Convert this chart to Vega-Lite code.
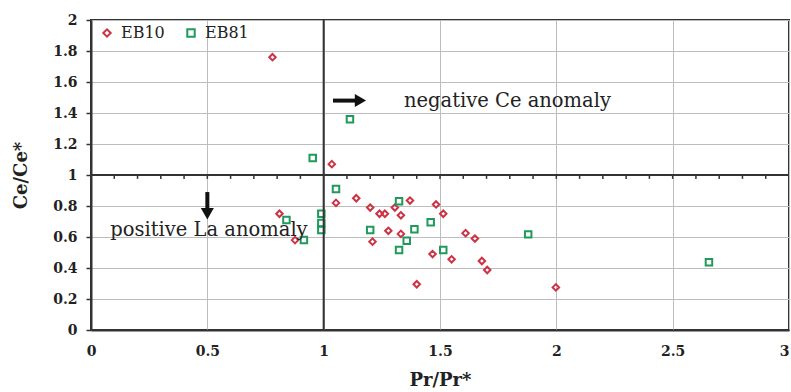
{
  "$schema": "https://vega.github.io/schema/vega-lite/v6.json",
  "width": 698,
  "height": 310,
  "autosize": {"type": "none"},
  "padding": {"left": 91, "top": 20, "right": 2, "bottom": 62},
  "background": "white",
  "config": {
    "font": "DejaVu Serif",
    "view": {"stroke": "#333333", "strokeWidth": 2},
    "axis": {"labelOverlap": false, "labelSeparation": 0, "labelBound": false}
  },
  "datasets": {
    "pts": [
      {"series": "EB10", "x": 0.78, "y": 1.76},
      {"series": "EB10", "x": 1.035, "y": 1.07},
      {"series": "EB10", "x": 0.81, "y": 0.75},
      {"series": "EB10", "x": 0.877, "y": 0.58},
      {"series": "EB10", "x": 1.053, "y": 0.82},
      {"series": "EB10", "x": 1.14, "y": 0.85},
      {"series": "EB10", "x": 1.2, "y": 0.79},
      {"series": "EB10", "x": 1.24, "y": 0.75},
      {"series": "EB10", "x": 1.263, "y": 0.75},
      {"series": "EB10", "x": 1.306, "y": 0.79},
      {"series": "EB10", "x": 1.332, "y": 0.74},
      {"series": "EB10", "x": 1.371, "y": 0.835},
      {"series": "EB10", "x": 1.483, "y": 0.81},
      {"series": "EB10", "x": 1.514, "y": 0.75},
      {"series": "EB10", "x": 1.278, "y": 0.64},
      {"series": "EB10", "x": 1.332, "y": 0.62},
      {"series": "EB10", "x": 1.21, "y": 0.57},
      {"series": "EB10", "x": 1.61, "y": 0.625},
      {"series": "EB10", "x": 1.65, "y": 0.59},
      {"series": "EB10", "x": 1.468, "y": 0.49},
      {"series": "EB10", "x": 1.55, "y": 0.456},
      {"series": "EB10", "x": 1.68, "y": 0.445},
      {"series": "EB10", "x": 1.703, "y": 0.387},
      {"series": "EB10", "x": 1.4, "y": 0.295},
      {"series": "EB10", "x": 1.998, "y": 0.275},
      {"series": "EB81", "x": 1.113, "y": 1.36},
      {"series": "EB81", "x": 0.953, "y": 1.11},
      {"series": "EB81", "x": 1.053, "y": 0.91},
      {"series": "EB81", "x": 0.99, "y": 0.75},
      {"series": "EB81", "x": 0.99, "y": 0.69},
      {"series": "EB81", "x": 0.99, "y": 0.645},
      {"series": "EB81", "x": 1.324, "y": 0.83},
      {"series": "EB81", "x": 1.2, "y": 0.645},
      {"series": "EB81", "x": 1.39, "y": 0.65},
      {"series": "EB81", "x": 1.46, "y": 0.695},
      {"series": "EB81", "x": 1.357, "y": 0.576},
      {"series": "EB81", "x": 1.324, "y": 0.516},
      {"series": "EB81", "x": 1.514, "y": 0.516},
      {"series": "EB81", "x": 1.879, "y": 0.617},
      {"series": "EB81", "x": 0.915, "y": 0.58},
      {"series": "EB81", "x": 0.84, "y": 0.71},
      {"series": "EB81", "x": 2.656, "y": 0.437}
    ],
    "labels": [
      {"x": 1.79, "y": 1.475, "label": "negative Ce anomaly"},
      {"x": 0.507, "y": 0.645, "label": "positive La anomaly"}
    ],
    "shafts": [
      {"x": 1.04, "x2": 1.15, "y": 1.48, "y2": 1.48},
      {"x": 0.5, "x2": 0.5, "y": 0.89, "y2": 0.76}
    ],
    "headRight": [{"x": 1.158, "y": 1.48}],
    "headDown": [{"x": 0.5, "y": 0.75}],
    "vline": [{"x": 1}],
    "hline": [{"y": 1}],
    "minor": [
      {"x": 0.1}, {"x": 0.2}, {"x": 0.3}, {"x": 0.4}, {"x": 0.5}, {"x": 0.6}, {"x": 0.7}, {"x": 0.8}, {"x": 0.9},
      {"x": 1.1}, {"x": 1.2}, {"x": 1.3}, {"x": 1.4}, {"x": 1.5}, {"x": 1.6}, {"x": 1.7}, {"x": 1.8}, {"x": 1.9},
      {"x": 2.0}, {"x": 2.1}, {"x": 2.2}, {"x": 2.3}, {"x": 2.4}, {"x": 2.5}, {"x": 2.6}, {"x": 2.7}, {"x": 2.8}, {"x": 2.9}
    ]
  },
  "layer": [
    {
      "data": {"name": "pts"},
      "mark": {"type": "point", "filled": false, "strokeWidth": 2, "opacity": 1, "size": 42},
      "encoding": {
        "x": {
          "field": "x", "type": "quantitative",
          "scale": {"domain": [0, 3], "nice": false, "zero": false},
          "axis": {
            "title": "Pr/Pr*", "values": [0, 0.5, 1, 1.5, 2, 2.5, 3], "format": "~g",
            "grid": true, "gridColor": "#bdbdbd", "gridWidth": 1, "labelOverlap": false,
            "ticks": false, "domainColor": "#333333", "domainWidth": 2,
            "labelFont": "DejaVu Serif", "labelFontSize": 14, "labelFontWeight": "bold", "labelColor": "#222222",
            "labelPadding": 14, "labelFlush": false,
            "labelAlign": {"expr": "datum.value == 3 ? 'right' : 'center'"},
            "titleFont": "DejaVu Serif", "titleFontSize": 18, "titleFontWeight": "bold", "titleColor": "#222222",
            "titlePadding": 13
          }
        },
        "y": {
          "field": "y", "type": "quantitative",
          "scale": {"domain": [0, 2], "nice": false, "zero": false},
          "axis": {
            "title": "Ce/Ce*", "values": [0, 0.2, 0.4, 0.6, 0.8, 1, 1.2, 1.4, 1.6, 1.8, 2], "format": "~g",
            "tickCount": 11,
            "grid": true, "gridColor": "#bdbdbd", "gridWidth": 1, "labelOverlap": false,
            "ticks": true, "tickSize": 5, "tickColor": "#333333", "tickWidth": 1.5,
            "domainColor": "#333333", "domainWidth": 2,
            "labelFont": "DejaVu Serif", "labelFontSize": 14, "labelFontWeight": "bold", "labelColor": "#222222",
            "labelPadding": 9, "labelFlush": false,
            "titleFont": "DejaVu Serif", "titleFontSize": 18, "titleFontWeight": "bold", "titleColor": "#222222",
            "titlePadding": 22
          }
        },
        "color": {
          "field": "series", "type": "nominal",
          "scale": {"domain": ["EB10", "EB81"], "range": ["#cc3344", "#1f9a5a"]},
          "legend": {
            "title": null, "orient": "none", "legendX": 8, "legendY": 5, "direction": "horizontal",
            "labelFont": "DejaVu Serif", "labelFontSize": 16, "labelColor": "#222222",
            "symbolStrokeWidth": 2, "symbolSize": 55, "columnPadding": 18, "labelOffset": 6
          }
        },
        "shape": {
          "field": "series", "type": "nominal",
          "scale": {"domain": ["EB10", "EB81"], "range": ["diamond", "square"]}
        }
      }
    },
    {
      "data": {"name": "vline"},
      "mark": {"type": "rule", "color": "#333333", "strokeWidth": 2},
      "encoding": {"x": {"field": "x", "type": "quantitative"}}
    },
    {
      "data": {"name": "hline"},
      "mark": {"type": "rule", "color": "#333333", "strokeWidth": 2},
      "encoding": {"y": {"field": "y", "type": "quantitative"}}
    },
    {
      "data": {"name": "minor"},
      "mark": {"type": "rule", "color": "#333333", "strokeWidth": 1.5},
      "encoding": {
        "x": {"field": "x", "type": "quantitative"},
        "y": {"datum": 1, "type": "quantitative"},
        "y2": {"datum": 0.975}
      }
    },
    {
      "data": {"name": "labels"},
      "mark": {"type": "text", "font": "DejaVu Serif", "fontSize": 19.5, "color": "#222222", "align": "center", "baseline": "middle"},
      "encoding": {
        "x": {"field": "x", "type": "quantitative"},
        "y": {"field": "y", "type": "quantitative"},
        "text": {"field": "label"}
      }
    },
    {
      "data": {"name": "shafts"},
      "mark": {"type": "rule", "color": "#111111", "strokeWidth": 4},
      "encoding": {
        "x": {"field": "x", "type": "quantitative"},
        "x2": {"field": "x2"},
        "y": {"field": "y", "type": "quantitative"},
        "y2": {"field": "y2"}
      }
    },
    {
      "data": {"name": "headRight"},
      "mark": {"type": "point", "shape": "triangle-right", "filled": true, "color": "#111111", "size": 170, "opacity": 1},
      "encoding": {
        "x": {"field": "x", "type": "quantitative"},
        "y": {"field": "y", "type": "quantitative"}
      }
    },
    {
      "data": {"name": "headDown"},
      "mark": {"type": "point", "shape": "triangle-down", "filled": true, "color": "#111111", "size": 170, "opacity": 1},
      "encoding": {
        "x": {"field": "x", "type": "quantitative"},
        "y": {"field": "y", "type": "quantitative"}
      }
    }
  ]
}
